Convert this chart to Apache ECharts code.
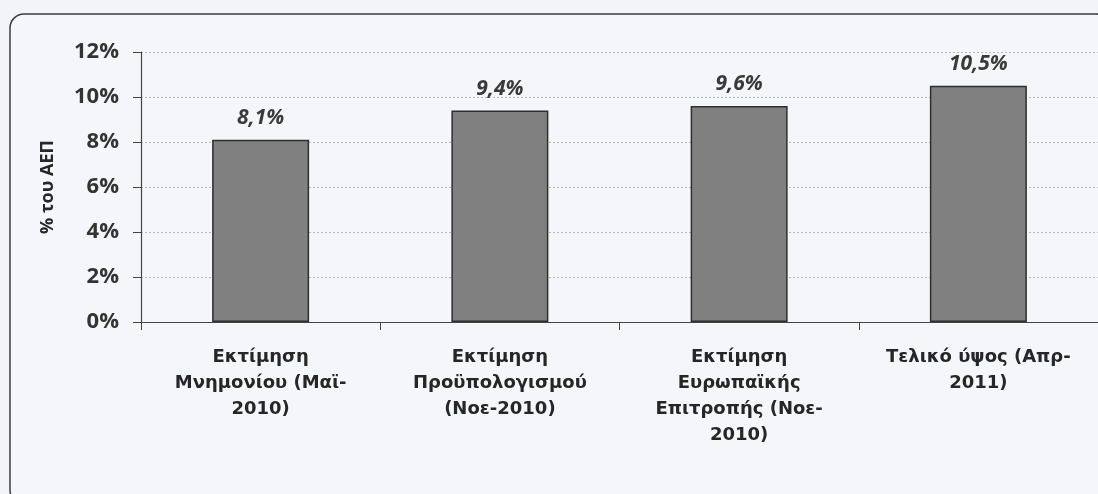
<!DOCTYPE html>
<html>
<head>
<meta charset="utf-8">
<script src="https://cdn.jsdelivr.net/npm/echarts@6/dist/echarts.min.js"></script>
<style>
  html, body { margin: 0; padding: 0; background: #f3f4f8; }
  #main { width: 1098px; height: 494px; }
</style>
</head>
<body>
<div id="main"></div>
<script>
  const categories = [
    "Εκτίμηση\nΜνημονίου (Μαϊ-\n2010)",
    "Εκτίμηση\nΠροϋπολογισμού\n(Νοε-2010)",
    "Εκτίμηση\nΕυρωπαϊκής\nΕπιτροπής (Νοε-\n2010)",
    "Τελικό ύψος (Απρ-\n2011)"
  ];
  const values = [8.1, 9.4, 9.6, 10.5];
  const yTicks = [0, 2, 4, 6, 8, 10, 12];

  const font = "'Open Sans', 'Noto Sans', sans-serif";
  let chart = echarts.init(document.getElementById("main"));
  let option = {
    backgroundColor: "#f3f4f8",
    animation: false,
    graphic: [
      {
        type: "rect",
        shape: { x: 10, y: 14, width: 1100, height: 490, r: 14 },
        style: { fill: "#f5f6f9", stroke: "#3c3c3c", lineWidth: 1.5 },
        z: -10
      }
    ],
    grid: {
      left: 141,
      top: 52,
      width: 960,
      height: 270
    },
    xAxis: {
      type: "category",
      data: categories,
      axisLine: { lineStyle: { color: "#444", width: 1.2 } },
      axisTick: { show: true, length: 8, lineStyle: { color: "#444" } },
      axisLabel: {
        interval: 0,
        margin: 22,
        color: "#262626",
        fontFamily: "'DejaVu Sans', sans-serif",
        fontWeight: "bold",
        fontSize: 18,
        lineHeight: 26,
        align: "center"
      }
    },
    yAxis: {
      type: "value",
      min: yTicks[0],
      max: yTicks[yTicks.length - 1],
      interval: 2,
      name: "% του ΑΕΠ",
      nameLocation: "middle",
      nameRotate: 90,
      nameGap: 84,
      nameTextStyle: {
        color: "#262626",
        fontFamily: font,
        fontWeight: "bold",
        fontSize: 18
      },
      axisLine: { show: true, lineStyle: { color: "#444", width: 1.2 } },
      axisTick: { show: true, length: 8, lineStyle: { color: "#444" } },
      axisLabel: {
        margin: 22,
        color: "#333",
        fontFamily: font,
        fontWeight: "bold",
        fontSize: 22,
        formatter: (v) => v + "%"
      },
      splitLine: {
        show: true,
        lineStyle: { type: [2, 2], color: "#b8b8b8", width: 1 }
      }
    },
    series: [
      {
        type: "bar",
        data: values,
        barWidth: 97,
        itemStyle: {
          color: "#808080",
          borderColor: "#2e2e2e",
          borderWidth: 1.5
        },
        label: {
          show: true,
          position: "top",
          distance: 11,
          color: "#3a3a3a",
          fontFamily: font,
          fontStyle: "italic",
          fontWeight: "bold",
          fontSize: 21,
          formatter: (p) => String(p.value).replace(".", ",") + "%"
        }
      }
    ]
  };
  chart.setOption(option);
</script>
</body>
</html>
